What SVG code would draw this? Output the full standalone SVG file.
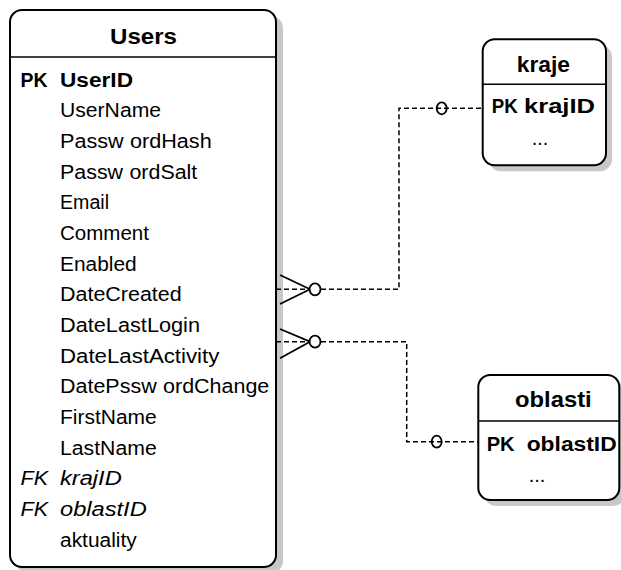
<svg xmlns="http://www.w3.org/2000/svg" width="621" height="570" viewBox="0 0 621 570">
<style>
.shadow{fill:#c8c8c8;stroke:none}
.box{fill:#ffffff;stroke:#000;stroke-width:2}
.sep{stroke:#000;stroke-width:1.5}
.title{font-family:"Liberation Sans",Arial,sans-serif;font-weight:bold;font-size:22px}
.f{font-family:"Liberation Sans",Arial,sans-serif;font-size:20px;fill:#000}
.b{font-weight:bold}
.i{font-style:italic}
.dash{fill:none;stroke:#000;stroke-width:1.5;stroke-dasharray:5,3}
.crow{fill:none;stroke:#000;stroke-width:1.8}
</style>
<rect width="621" height="570" fill="#ffffff"/>
<g id="Users">
<rect class="shadow" x="16" y="16" width="267" height="557" rx="12"/>
<rect class="box" x="10" y="10" width="266" height="557" rx="12"/>
<line class="sep" x1="10" y1="57" x2="276" y2="57"/>
<text class="title" x="110" y="43.5" textLength="67" lengthAdjust="spacingAndGlyphs">Users</text>
<text class="f b" x="20.5" y="86.7" textLength="27" lengthAdjust="spacingAndGlyphs">PK</text>
<text class="f b" x="60" y="86.7" textLength="73" lengthAdjust="spacingAndGlyphs">UserID</text>
<text class="f" x="60" y="117.4" textLength="101" lengthAdjust="spacingAndGlyphs">UserName</text>
<text class="f" x="60" y="148" textLength="151.7" lengthAdjust="spacingAndGlyphs">Passw<tspan dx="6">ordHash</tspan></text>
<text class="f" x="60" y="178.7" textLength="137.3" lengthAdjust="spacingAndGlyphs">Passw<tspan dx="6">ordSalt</tspan></text>
<text class="f" x="60" y="209.4" textLength="49" lengthAdjust="spacingAndGlyphs">Email</text>
<text class="f" x="60" y="240" textLength="89" lengthAdjust="spacingAndGlyphs">Comment</text>
<text class="f" x="60" y="270.7" textLength="76.7" lengthAdjust="spacingAndGlyphs">Enabled</text>
<text class="f" x="60" y="301.4" textLength="121.7" lengthAdjust="spacingAndGlyphs">DateCreated</text>
<text class="f" x="60" y="332" textLength="140" lengthAdjust="spacingAndGlyphs">DateLastLogin</text>
<text class="f" x="60" y="362.7" textLength="159.3" lengthAdjust="spacingAndGlyphs">DateLastActivity</text>
<text class="f" x="60" y="393.4" textLength="209.3" lengthAdjust="spacingAndGlyphs">DatePssw<tspan dx="6">ordChange</tspan></text>
<text class="f" x="60" y="424" textLength="96.7" lengthAdjust="spacingAndGlyphs">FirstName</text>
<text class="f" x="60" y="454.7" textLength="96.7" lengthAdjust="spacingAndGlyphs">LastName</text>
<text class="f i" x="20.5" y="485.4" textLength="27.5" lengthAdjust="spacingAndGlyphs">FK</text>
<text class="f i" x="60" y="485.4" textLength="61.7" lengthAdjust="spacingAndGlyphs">krajID</text>
<text class="f i" x="20.5" y="516" textLength="27.5" lengthAdjust="spacingAndGlyphs">FK</text>
<text class="f i" x="60" y="516" textLength="86.7" lengthAdjust="spacingAndGlyphs">oblastID</text>
<text class="f" x="60" y="546.7" textLength="76.7" lengthAdjust="spacingAndGlyphs">aktuality</text>
</g>
<g id="kraje">
<rect class="shadow" x="488.7" y="45.3" width="123.3" height="126" rx="12"/>
<rect class="box" x="482.7" y="39.3" width="123.3" height="126" rx="12"/>
<line class="sep" x1="482.7" y1="84.3" x2="606" y2="84.3"/>
<text class="title" x="516.7" y="72" textLength="53.3" lengthAdjust="spacingAndGlyphs">kraje</text>
<text class="f b" x="491.7" y="113.3" textLength="26" lengthAdjust="spacingAndGlyphs">PK</text>
<text class="f b" x="524" y="113.3" textLength="71" lengthAdjust="spacingAndGlyphs">krajID</text>
<text class="f" x="540" y="145" text-anchor="middle">...</text>
</g>
<g id="oblasti">
<rect class="shadow" x="484.3" y="381" width="141" height="125" rx="12"/>
<rect class="box" x="478.3" y="375" width="141" height="125" rx="12"/>
<line class="sep" x1="478.3" y1="421" x2="619.3" y2="421"/>
<text class="title" x="515" y="407" textLength="76.7" lengthAdjust="spacingAndGlyphs">oblasti</text>
<text class="f b" x="486.7" y="450.7" textLength="28" lengthAdjust="spacingAndGlyphs">PK</text>
<text class="f b" x="526.7" y="450.7" textLength="90" lengthAdjust="spacingAndGlyphs">oblastID</text>
<text class="f" x="537" y="482" text-anchor="middle">...</text>
</g>
<g id="connectors">
<path class="dash" d="M276,289.3 H309"/>
<path class="dash" d="M321,289.3 H399 V108.3 H482.7"/>
<line class="crow" x1="280" y1="275" x2="310" y2="289.3"/>
<line class="crow" x1="280" y1="304" x2="310" y2="289.3"/>
<ellipse class="crow" cx="315" cy="289.3" rx="5.5" ry="6"/>
<ellipse class="crow" cx="441.7" cy="108.3" rx="5" ry="6"/>
<path class="dash" d="M276,341.7 H309"/>
<path class="dash" d="M321,341.7 H406.7 V441.7 H478.3"/>
<line class="crow" x1="280" y1="329" x2="310" y2="341.7"/>
<line class="crow" x1="280" y1="358.3" x2="310" y2="341.7"/>
<ellipse class="crow" cx="315" cy="341.7" rx="5.5" ry="6"/>
<ellipse class="crow" cx="436.7" cy="441.7" rx="5" ry="6"/>
</g>
</svg>
